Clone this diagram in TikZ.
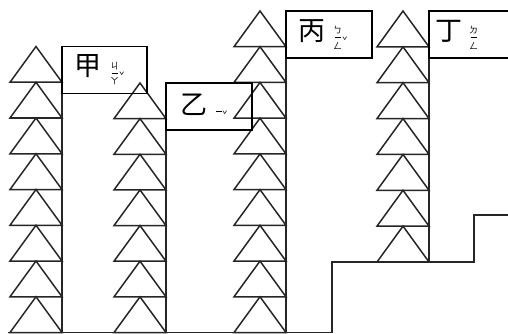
\documentclass[tikz,border=0pt]{standalone}
\usepackage{fontspec}
\newfontfamily\cjk{Noto Sans CJK TC}
\usetikzlibrary{positioning}
\newcommand{\hanzi}[1]{{\cjk\fontsize{27}{27}\selectfont #1}}
\newcommand{\yistroke}{\rule[1.5pt]{6pt}{0.6pt}}
\newcommand{\zhuyin}[2]{$\vcenter{\hbox{\cjk\fontsize{9}{9}\selectfont\shortstack{#1}}}$\raisebox{-4pt}{\cjk\fontsize{9}{9}\selectfont #2}}

\begin{document}
\begin{tikzpicture}[x=1pt, y=-1pt, line width=1.5pt, line join=miter,
  namebox/.style={draw, anchor=north west, outer sep=0pt, minimum height=47, align=left},
  tree/.style={draw, black!85}]
  \useasboundingbox (0,0) rectangle (508,334);
  % stacks of triangles: left x / apex y / bottom y / count
  \foreach \lx/\top/\bot/\n in {10/46.5/332.5/8, 114/83/332.5/7, 234/11/332.5/9, 377/11/262/7} {
    \pgfmathsetmacro{\h}{(\bot-\top)/\n}
    \foreach \i in {1,...,\n} {
      \pgfmathsetmacro{\ya}{\top+(\i-1)*\h}
      \pgfmathsetmacro{\yb}{\top+\i*\h}
      \draw[tree] (\lx,\yb) -- (\lx+26,\ya) -- (\lx+52,\yb) -- cycle;
    }
    \draw[tree] (\lx+52,\top) -- (\lx+52,\bot);
  }
  % ground
  \draw[tree] (8,332.5) -- (332,332.5) -- (332,262) -- (474,262) -- (474,215) -- (510,215);
  \node[namebox, minimum width=85, text width=61pt, inner xsep=12pt] (jia) at (62,46.5)
    {\hanzi{甲}\hspace{9pt}\zhuyin{ㄐ\\\yistroke\\ㄚ}{ˇ}};
  \node[namebox, minimum width=86, text width=58pt, inner xsep=14pt] (yi) at (166,83)
    {\hanzi{乙}\hspace{9pt}\zhuyin{\yistroke}{ˇ}};
  \node[namebox, minimum width=86, text width=62pt, inner xsep=12pt] (bing) at (286,11)
    {\hanzi{丙}\hspace{8pt}\zhuyin{ㄅ\\\yistroke\\ㄥ}{ˇ}};
  \node[namebox, minimum width=82, text width=70pt, inner xsep=6pt] (ding) at (429,11)
    {\hanzi{丁}\hspace{7pt}\zhuyin{ㄉ\\\yistroke\\ㄥ}{}};
\end{tikzpicture}
\end{document}
